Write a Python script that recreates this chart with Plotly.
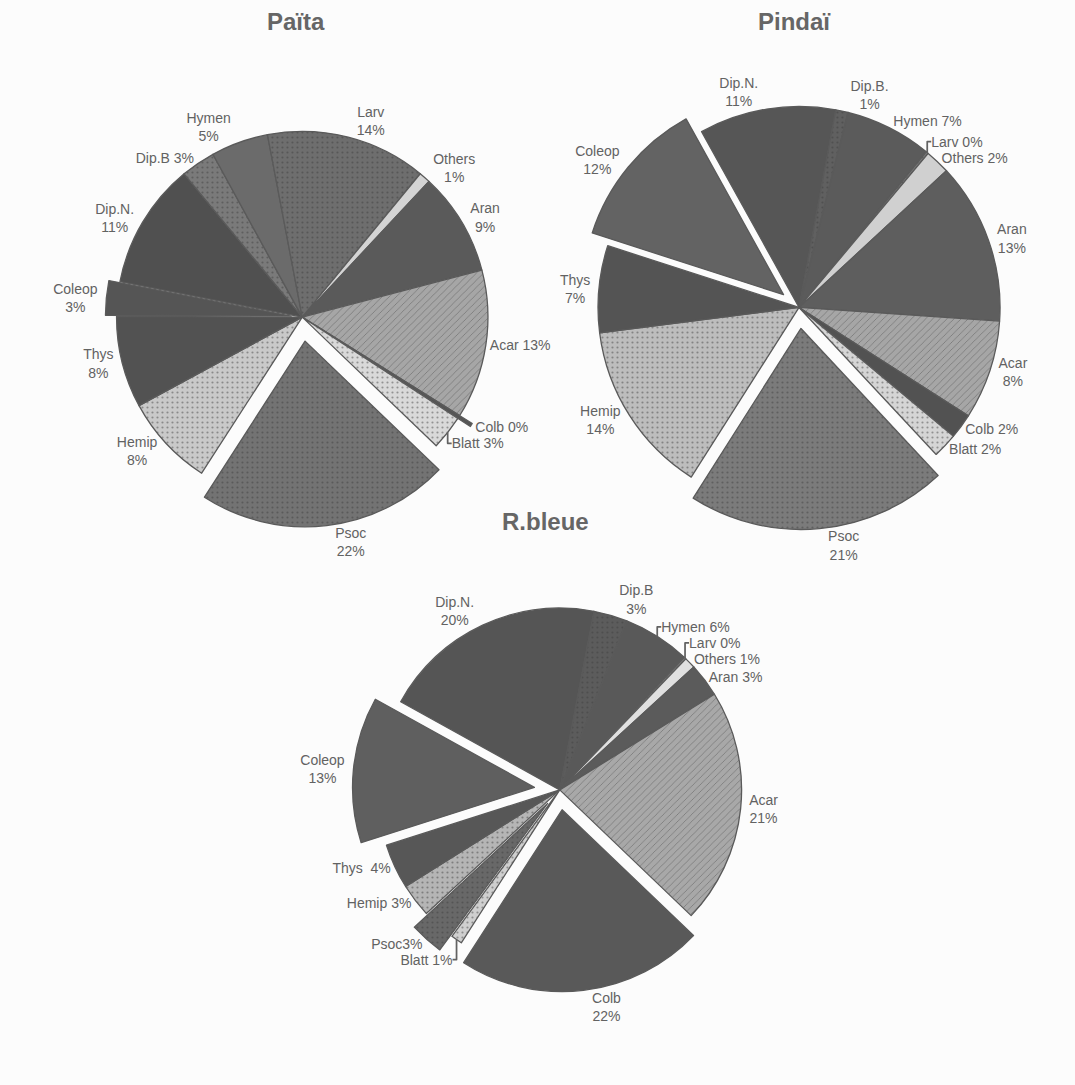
import plotly.graph_objects as go

# ---------------- data ----------------
categories = ["Dip.N.", "Dip.B", "Hymen", "Larv", "Others", "Aran", "Acar",
              "Colb", "Blatt", "Psoc", "Hemip", "Thys", "Coleop"]

# percentages (clockwise, starting with Dip.N.)
paita_values = [11, 3, 5, 14, 1, 9, 13, 0.3, 3, 22, 8, 8, 3]
pindai_values = [11, 1, 7, 0.2, 2, 13, 8, 2, 2, 21, 14, 7, 12]
rbleue_values = [20, 3, 6, 0.2, 1, 3, 21, 22, 1, 3, 3, 4, 13]

# label names as printed on each chart
paita_names = ["Dip.N.", "Dip.B", "Hymen", "Larv", "Others", "Aran", "Acar",
               "Colb", "Blatt", "Psoc", "Hemip", "Thys", "Coleop"]
pindai_names = ["Dip.N.", "Dip.B.", "Hymen", "Larv", "Others", "Aran", "Acar",
                "Colb", "Blatt", "Psoc", "Hemip", "Thys", "Coleop"]
rbleue_names = ["Dip.N.", "Dip.B", "Hymen", "Larv", "Others", "Aran", "Acar",
                "Colb", "Blatt", "Psoc", "Hemip", "Thys ", "Coleop"]

titles = ["Païta", "Pindaï", "R.bleue"]

# ---------------- style ----------------
W, H = 1075, 1085
FONT = "Liberation Sans, Arial, sans-serif"

paita_sep = ["<br>", " ", "<br>", "<br>", "<br>", "<br>", " ", " ", " ",
             "<br>", "<br>", "<br>", "<br>"]
pindai_sep = ["<br>", "<br>", " ", " ", " ", "<br>", "<br>", " ", " ",
              "<br>", "<br>", "<br>", "<br>"]
rbleue_sep = ["<br>", "<br>", " ", " ", " ", " ", "<br>", "<br>", " ",
              "", " ", " ", "<br>"]

paita_colors = ["#505050", "#7a7a7a", "#6b6b6b", "#6e6e6e", "#d4d4d4", "#5a5a5a",
                "#a6a6a6", "#555555", "#d9d9d9", "#737373", "#c9c9c9", "#525252", "#555555"]
pindai_colors = ["#565656", "#606060", "#5b5b5b", "#777777", "#d0d0d0", "#5e5e5e",
                 "#a6a6a6", "#525252", "#d5d5d5", "#7b7b7b", "#bdbdbd", "#545454", "#636363"]
rbleue_colors = ["#555555", "#5c5c5c", "#595959", "#777777", "#e0e0e0", "#5b5b5b",
                 "#a8a8a8", "#595959", "#cfcfcf", "#686868", "#b5b5b5", "#575757", "#5f5f5f"]

paita_pull = [0, 0, 0, 0, 0, 0, 0, 0.08, 0, 0.13, 0, 0, 0.06]
pindai_pull = [0, 0, 0, 0, 0, 0, 0, 0, 0, 0.105, 0, 0, 0.10]
rbleue_pull = [0, 0, 0, 0, 0, 0, 0, 0.11, 0, 0.10, 0, 0, 0.14]

patterns = ["", ".", "", ".", "", "", "/", "", ".", ".", ".", "", ""]


def domain_for(cx, cy, r, maxpull):
    half = r * (1 + maxpull)
    return dict(x=[(cx - half) / W, (cx + half) / W],
                y=[1 - (cy + half) / H, 1 - (cy - half) / H])


def make_text(names, seps, values):
    return [f"{n}{s}{round(v)}%" for n, s, v in zip(names, seps, values)]


specs = [
    (paita_values, paita_names, paita_sep, paita_colors, paita_pull, -79, (298, 328, 194)),
    (pindai_values, pindai_names, pindai_sep, pindai_colors, pindai_pull, -29, (817, 318, 210)),
    (rbleue_values, rbleue_names, rbleue_sep, rbleue_colors, rbleue_pull, -61, (567, 817, 190)),
]

fig = go.Figure()
for values, names, seps, colors, pull, rot, (cx, cy, r) in specs:
    fig.add_trace(go.Pie(
        labels=categories,
        values=values,
        text=make_text(names, seps, values),
        textinfo="text",
        textposition="outside",
        textfont=dict(family=FONT, size=14, color="#626262"),
        sort=False,
        direction="clockwise",
        rotation=rot,
        pull=pull,
        marker=dict(
            colors=colors,
            line=dict(color="#5a5a5a", width=1.3),
            pattern=dict(shape=patterns, fgcolor="#3c3c3c", fgopacity=0.45,
                         bgcolor=colors, size=5, solidity=0.15),
        ),
        domain=domain_for(cx, cy, r, max(pull)),
        showlegend=False,
        hoverinfo="skip",
    ))

title_pos = [(291, 22), (812, 22), (552, 539)]
for t, (tx, ty) in zip(titles, title_pos):
    fig.add_annotation(text=f"<b>{t}</b>", x=tx / W, y=1 - ty / H, xref="paper", yref="paper",
                       showarrow=False, xanchor="center", yanchor="middle",
                       font=dict(family=FONT, size=24, color="#666666"))

fig.update_layout(
    width=W, height=H,
    margin=dict(l=0, r=0, t=0, b=0),
    paper_bgcolor="#fcfcfc",
    plot_bgcolor="#fcfcfc",
)

fig.write_html(
    "out.html",
    config={"responsive": False, "displayModeBar": False},
    post_script=("document.body.style.margin='0px';"
                 "document.body.style.background='#fcfcfc';"),
)
